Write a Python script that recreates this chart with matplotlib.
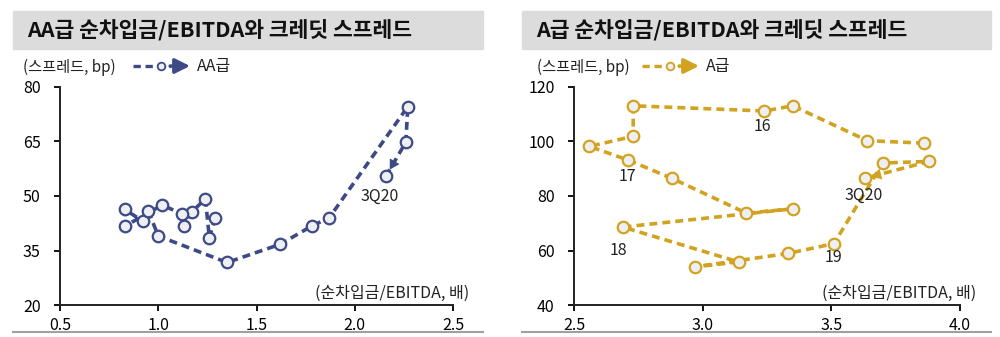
import matplotlib
matplotlib.use('Agg')
import matplotlib.pyplot as plt
from matplotlib.patches import Rectangle, FancyArrowPatch
from matplotlib.lines import Line2D

plt.rcParams['font.family'] = ['Noto Sans CJK KR', 'DejaVu Sans']

# 1Q16 ~ 3Q20, x = 순차입금/EBITDA (배), y = 크레딧 스프레드 (bp)
aa_debt = [1.29, 1.26, 1.24, 1.17, 1.13, 1.12, 1.02, 0.83, 0.83, 0.92,
           0.95, 1.00, 1.35, 1.62, 1.78, 1.87, 2.27, 2.26, 2.16]
aa_spread = [44.0, 38.5, 49.2, 45.6, 41.7, 45.1, 47.5, 41.7, 46.3, 43.1,
             45.8, 39.0, 31.7, 36.7, 41.7, 44.0, 74.6, 64.8, 55.6]

a_debt = [3.86, 3.64, 3.35, 3.24, 2.73, 2.73, 2.56, 2.71, 2.88, 3.17,
          3.35, 2.69, 3.14, 2.97, 3.33, 3.51, 3.70, 3.88, 3.63]
a_spread = [99.4, 100.3, 113.1, 111.2, 113.1, 101.9, 98.2, 93.2, 86.5, 73.7,
            75.3, 68.6, 55.8, 54.0, 58.9, 62.5, 92.1, 92.7, 86.5]

# point index -> label text
aa_labels = {18: '3Q20'}
a_labels = {3: '16', 7: '17', 11: '18', 15: '19', 18: '3Q20'}
# label offsets in pixels
aa_offsets = {18: (-7, -21)}
a_offsets = {3: (-2, -16), 7: (-1, -16), 11: (-4, -23), 15: (0, -14), 18: (-1, -17)}

aa_color = '#3d4a86'
a_color = '#d1a320'
face = '#eeeff3'

W, H = 1000, 337
fig = plt.figure(figsize=(10, 3.37), dpi=100)


def px(x, y):
    # pixel position (from top-left) to figure fraction
    return x / W, 1 - y / H


def draw_panel(box_px, axes_px, title, xs, ys, labels, offsets, color,
               xlim, xticks, yticks, legend_label, legend_x):
    # title bar
    bx0, by0 = px(box_px[0], 49)
    bx1, by1 = px(box_px[1], 11)
    fig.patches.append(Rectangle((bx0, by0), bx1 - bx0, by1 - by0,
                                 transform=fig.transFigure, color='#dcdcdc', zorder=0))
    fig.text(*px(box_px[0] + 14, 30), title, fontsize=15.5, fontweight='bold',
             va='center', ha='left', color='#111111')
    # bottom line
    lx0, ly = px(box_px[0], 332)
    lx1, _ = px(box_px[1], 332)
    fig.add_artist(Line2D([lx0, lx1], [ly, ly], transform=fig.transFigure,
                          color='#a0a0a0', lw=1.5))

    ax0, ay0 = px(axes_px[0], 305)
    ax1, ay1 = px(axes_px[1], 87)
    ax = fig.add_axes([ax0, ay0, ax1 - ax0, ay1 - ay0])
    ax.set_facecolor('none')

    ax.plot(xs, ys, color=color, lw=2.6, dashes=(2.2, 1.4), marker='o',
            markersize=8.3, markerfacecolor=face, markeredgecolor=color,
            markeredgewidth=1.6, zorder=3)
    ax.annotate('', xy=(xs[-1], ys[-1]), xytext=(xs[-2], ys[-2]),
                arrowprops=dict(arrowstyle='-|>,head_length=0.7,head_width=0.4',
                                color=color, lw=0.01, shrinkA=0, shrinkB=5),
                zorder=4)
    for i, t in labels.items():
        ax.annotate(t, (xs[i], ys[i]), xytext=offsets[i], textcoords='offset pixels',
                    ha='center', va='center', fontsize=11.5, color='#222222')

    ax.set_xlim(*xlim)
    ax.set_ylim(yticks[0], yticks[-1])
    ax.set_xticks(xticks)
    ax.set_xticklabels([f'{v:.1f}' for v in xticks])
    ax.set_yticks(yticks)
    ax.spines['top'].set_visible(False)
    ax.spines['right'].set_visible(False)
    for s in ('left', 'bottom'):
        ax.spines[s].set_linewidth(1.4)
        ax.spines[s].set_color('#222222')
    ax.tick_params(axis='y', direction='out', length=4, width=1.3, pad=10, labelsize=11.5)
    ax.tick_params(axis='x', direction='out', length=4, width=1.3, pad=5, labelsize=11.5)

    # axis titles
    fig.text(*px(axes_px[0] - 37, 67), '(스프레드, bp)', fontsize=11,
             ha='left', va='center', color='#222222')
    fig.text(*px(axes_px[1] + 16, 293), '(순차입금/EBITDA, 배)', fontsize=11.5,
             ha='right', va='center', color='#222222')

    # legend: dashed line, marker, arrow, label
    y = 66
    x0, yf = px(legend_x, y)
    x1, _ = px(legend_x + 38, y)
    fig.add_artist(Line2D([x0, x1], [yf, yf], transform=fig.transFigure,
                          color=color, lw=2.4, dashes=(2.2, 1.4)))
    mx, _ = px(legend_x + 28, y)
    fig.add_artist(Line2D([mx], [yf], transform=fig.transFigure, marker='o',
                          markersize=5.5, markerfacecolor=face, markeredgecolor=color,
                          markeredgewidth=1.3, lw=0))
    a0, _ = px(legend_x + 37, y)
    a1, _ = px(legend_x + 57, y)
    fig.add_artist(FancyArrowPatch(
        (a0, yf), (a1, yf), transform=fig.transFigure,
        arrowstyle='-|>,head_length=0.9,head_width=0.45', color=color, lw=2.4,
        mutation_scale=10, shrinkA=0, shrinkB=0))
    fig.text(*px(legend_x + 64, y), legend_label, fontsize=11.5, ha='left',
             va='center', color='#222222')
    return ax


draw_panel((13, 483), (60, 453), 'AA급 순차입금/EBITDA와 크레딧 스프레드',
           aa_debt, aa_spread, aa_labels, aa_offsets, aa_color,
           (0.5, 2.5), [0.5, 1.0, 1.5, 2.0, 2.5], [20, 35, 50, 65, 80], 'AA급', 133)
draw_panel((522, 991), (574, 960), 'A급 순차입금/EBITDA와 크레딧 스프레드',
           a_debt, a_spread, a_labels, a_offsets, a_color,
           (2.5, 4.0), [2.5, 3.0, 3.5, 4.0], [40, 60, 80, 100, 120], 'A급', 642)

fig.savefig('out.png', dpi=100)
